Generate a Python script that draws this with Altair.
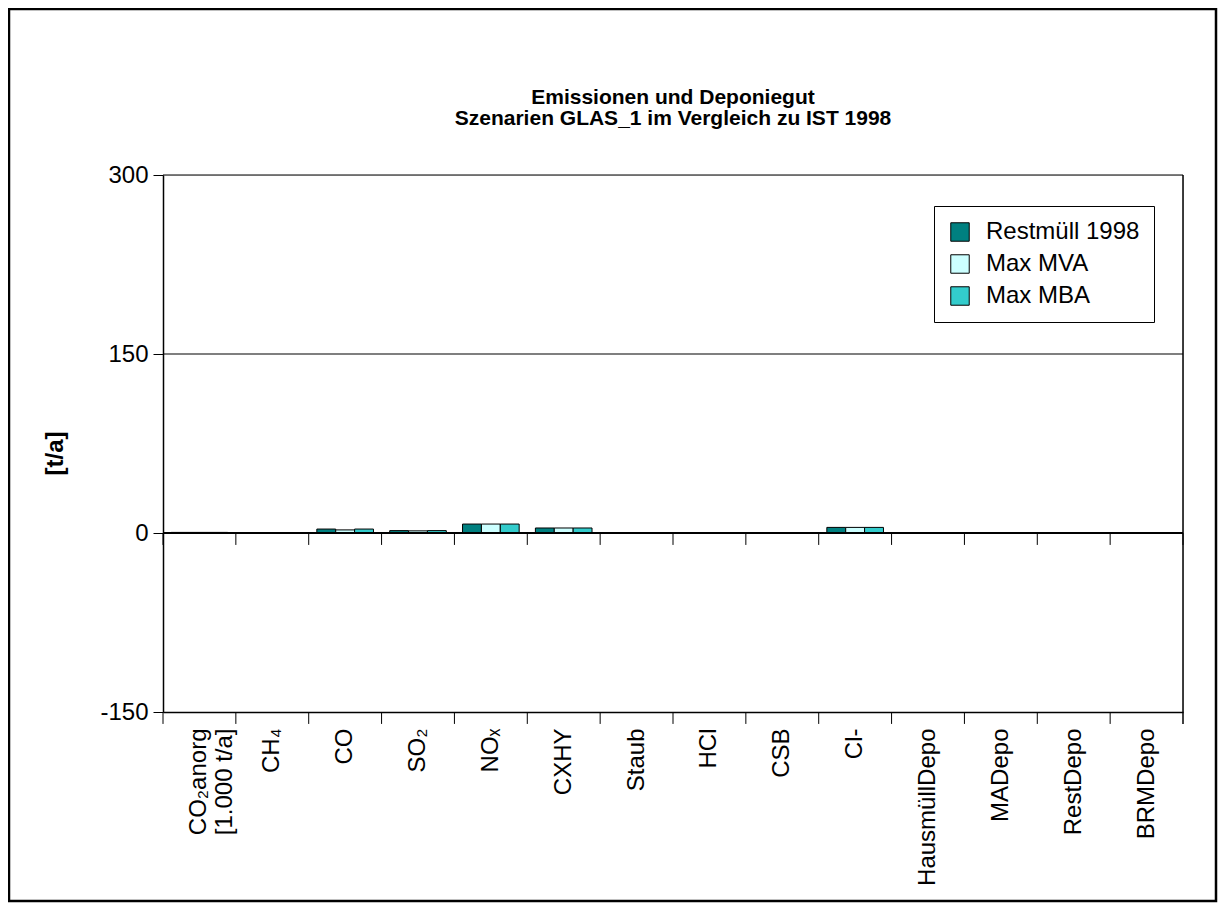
import altair as alt
import pandas as pd

categories = ["CO₂anorg [1.000 t/a]", "CH₄", "CO", "SO₂", "NOₓ", "CXHY", "Staub", "HCl",
              "CSB", "Cl-", "HausmüllDepo", "MADepo", "RestDepo", "BRMDepo"]
series = ["Restmüll 1998", "Max MVA", "Max MBA"]
colors = ["#008080", "#CCFFFF", "#33CCCC"]

restmuell_1998 = [0.5, 0.3, 3.3, 2.0, 7.5, 4.2, 0.3, 0.2, 0.2, 4.7, 0.3, 0.3, 0.3, 0.3]
max_mva        = [0.5, 0.3, 2.6, 1.8, 7.5, 4.2, 0.3, 0.2, 0.2, 4.7, 0.3, 0.3, 0.3, 0.3]
max_mba        = [0.5, 0.3, 3.3, 2.0, 7.5, 4.2, 0.3, 0.2, 0.2, 4.7, 0.3, 0.3, 0.3, 0.3]

y_ticks = [-150, 0, 150, 300]
grid_values = [150, 300]

rows = []
for s, vals in zip(series, [restmuell_1998, max_mva, max_mba]):
    for c, v in zip(categories, vals):
        rows.append({"Kategorie": c, "Szenario": s, "Wert": v})
df = pd.DataFrame(rows)

W, H = 1020, 537
PAD_L, PAD_T, PAD_R, PAD_B = 155, 167, 35, 191
FONT = "Liberation Sans, Arial, Helvetica, sans-serif"
FS = 24

label_expr = ("datum.label === 'CO₂anorg [1.000 t/a]' ? ['CO₂anorg', '[1.000 t/a]'] : datum.label")

xscale = alt.Scale(domain=categories, paddingInner=0, paddingOuter=0)
yscale = alt.Scale(domain=[-150, 300], nice=False, zero=False)

bars = alt.Chart(df).mark_bar(stroke="black", strokeWidth=1).encode(
    x=alt.X("Kategorie:N", scale=xscale, sort=categories,
            axis=alt.Axis(title=None, labelAngle=270, labelFontSize=FS, labelFont=FONT,
                          labelColor="black", ticks=False, domain=True, domainColor="black",
                          domainWidth=1.5, labelPadding=16,
                          labelExpr=label_expr, labelLineHeight=26, labelLimit=400)),
    xOffset=alt.XOffset("Szenario:N", sort=series,
                        scale=alt.Scale(domain=series, paddingOuter=0.43, paddingInner=0)),
    y=alt.Y("Wert:Q", scale=yscale,
            axis=alt.Axis(title="[t/a]", values=y_ticks, grid=False, tickSize=10,
                          tickColor="black", domain=True, domainColor="black", domainWidth=1.5,
                          labelExpr="datum.value < 0 ? '-' + abs(datum.value) : datum.label",
                          labelFontSize=FS, labelFont=FONT, labelColor="black", labelPadding=5,
                          titleFontSize=FS, titleFont=FONT, titleFontWeight="bold",
                          titleColor="black", titleAngle=270, titleX=-108, titleY=278,
                          titleAlign="center", titleBaseline="middle")),
    color=alt.Color("Szenario:N", sort=series,
                    scale=alt.Scale(domain=series, range=colors),
                    legend=alt.Legend(title=None, orient="none", legendX=771, legendY=31,
                                      symbolType="square", symbolSize=340,
                                      symbolStrokeColor="black", symbolStrokeWidth=1,
                                      labelFontSize=FS, labelFont=FONT, labelColor="black",
                                      rowPadding=8, padding=14, strokeColor="black",
                                      fillColor="white", labelOffset=14)),
)

grid = alt.Chart(pd.DataFrame({"v": grid_values})).mark_rule(color="black", strokeWidth=1.2).encode(
    y=alt.Y("v:Q", scale=yscale)
)

zero = alt.Chart(pd.DataFrame({"v": [0]})).mark_rule(color="black", strokeWidth=2).encode(
    y=alt.Y("v:Q", scale=yscale)
)

right = alt.Chart(pd.DataFrame({"a": [300], "b": [-160]})).mark_rule(
    color="black", strokeWidth=1.5).encode(
    x=alt.value(W),
    y=alt.Y("a:Q", scale=yscale),
    y2="b:Q",
)

tick_df = pd.DataFrame({"Kategorie": categories})
ticks_zero = alt.Chart(tick_df).mark_rule(color="black", strokeWidth=1).encode(
    x=alt.X("Kategorie:N", scale=xscale, sort=categories, bandPosition=0),
    y=alt.datum(0),
    y2=alt.datum(-10),
)
ticks_bottom = alt.Chart(tick_df).mark_rule(color="black", strokeWidth=1).encode(
    x=alt.X("Kategorie:N", scale=xscale, sort=categories, bandPosition=0),
    y=alt.datum(-150),
    y2=alt.datum(-160),
)
end_ticks = alt.Chart(pd.DataFrame({"a": [0], "b": [-10]})).mark_rule(
    color="black", strokeWidth=1).encode(
    x=alt.value(W),
    y=alt.Y("a:Q", scale=yscale),
    y2="b:Q",
)

frame = alt.Chart(pd.DataFrame({"v": [0]})).mark_rect(fill=None, stroke="black", strokeWidth=2.5).encode(
    x=alt.value(-154), x2=alt.value(W + PAD_R - 2),
    y=alt.value(-166), y2=alt.value(H + PAD_B - 2),
)

chart = alt.layer(frame, grid, bars, zero, right, ticks_zero, ticks_bottom, end_ticks).properties(
    width=W, height=H,
    autosize=alt.AutoSizeParams(type="none"),
    padding={"left": PAD_L, "top": PAD_T, "right": PAD_R, "bottom": PAD_B},
    title=alt.TitleParams(text="Emissionen und Deponiegut",
                          subtitle="Szenarien GLAS_1 im Vergleich zu IST 1998",
                          font=FONT, fontSize=21, fontWeight="bold", color="black",
                          subtitleFont=FONT, subtitleFontSize=21, subtitleFontWeight="bold",
                          subtitleColor="black", anchor="middle", frame="group",
                          offset=-121, subtitlePadding=0),
).configure_view(stroke=None).configure(background="white")

chart.save("out.html", embed_options={"renderer": "svg", "actions": False})
